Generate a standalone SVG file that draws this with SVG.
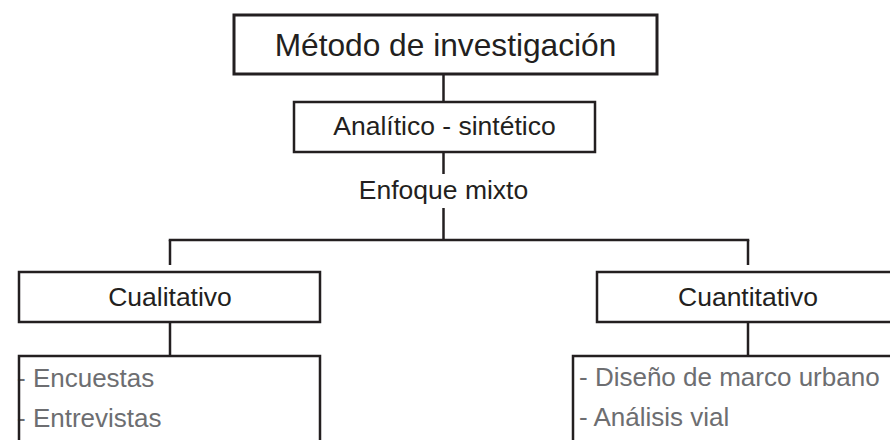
<svg xmlns="http://www.w3.org/2000/svg" width="890" height="440" viewBox="0 0 890 440">
<style>
  .box { fill: #ffffff; stroke: #231f20; stroke-width: 2.5; }
  .big { stroke-width: 3; }
  .t { font-family: "Liberation Sans", Arial, sans-serif; fill: #231f20; font-size: 26.5px; }
  .title { font-size: 31.7px; }
  .item { font-family: "Liberation Sans", Arial, sans-serif; fill: #6d6e71; font-size: 26px; }
  .conn line { stroke: #231f20; stroke-width: 2.5; fill: none; }
</style>
<rect width="890" height="440" fill="#ffffff"/>
<g id="connectors" class="conn">
  <line x1="443.5" y1="74" x2="443.5" y2="102"/>
  <line x1="443.5" y1="152" x2="443.5" y2="174"/>
  <line x1="443.5" y1="208" x2="443.5" y2="240"/>
  <line x1="168.75" y1="240" x2="749.25" y2="240"/>
  <line x1="170" y1="240" x2="170" y2="265"/>
  <line x1="748" y1="240" x2="748" y2="265"/>
  <line x1="170" y1="322" x2="170" y2="356"/>
  <line x1="748" y1="322" x2="748" y2="356"/>
</g>
<g id="metodo">
  <rect class="box big" x="234" y="15" width="423" height="59"/>
  <text class="t title" x="445.5" y="56" text-anchor="middle">Método de investigación</text>
</g>
<g id="analitico">
  <rect class="box" x="294" y="102" width="301" height="50"/>
  <text class="t" x="444.5" y="134.5" text-anchor="middle">Analítico - sintético</text>
</g>
<g id="enfoque">
  <text class="t" x="443.5" y="199" text-anchor="middle">Enfoque mixto</text>
</g>
<g id="cualitativo">
  <rect class="box" x="19" y="272" width="301" height="50"/>
  <text class="t" x="170" y="305.5" text-anchor="middle">Cualitativo</text>
</g>
<g id="cuantitativo">
  <rect class="box" x="597" y="272" width="302" height="50"/>
  <text class="t" x="748" y="305.5" text-anchor="middle">Cuantitativo</text>
</g>
<g id="cualitativo-lista">
  <text class="item" x="17" y="387">- Encuestas</text>
  <text class="item" x="17" y="427">- Entrevistas</text>
  <path d="M19 445 V356 H320 V445" fill="none" stroke="#231f20" stroke-width="2.5"/>
</g>
<g id="cuantitativo-lista">
  <rect class="box" x="573" y="356" width="330" height="100"/>
  <text class="item" x="579" y="386">- Diseño de marco urbano</text>
  <text class="item" x="579" y="426">- Análisis vial</text>
</g>
</svg>
